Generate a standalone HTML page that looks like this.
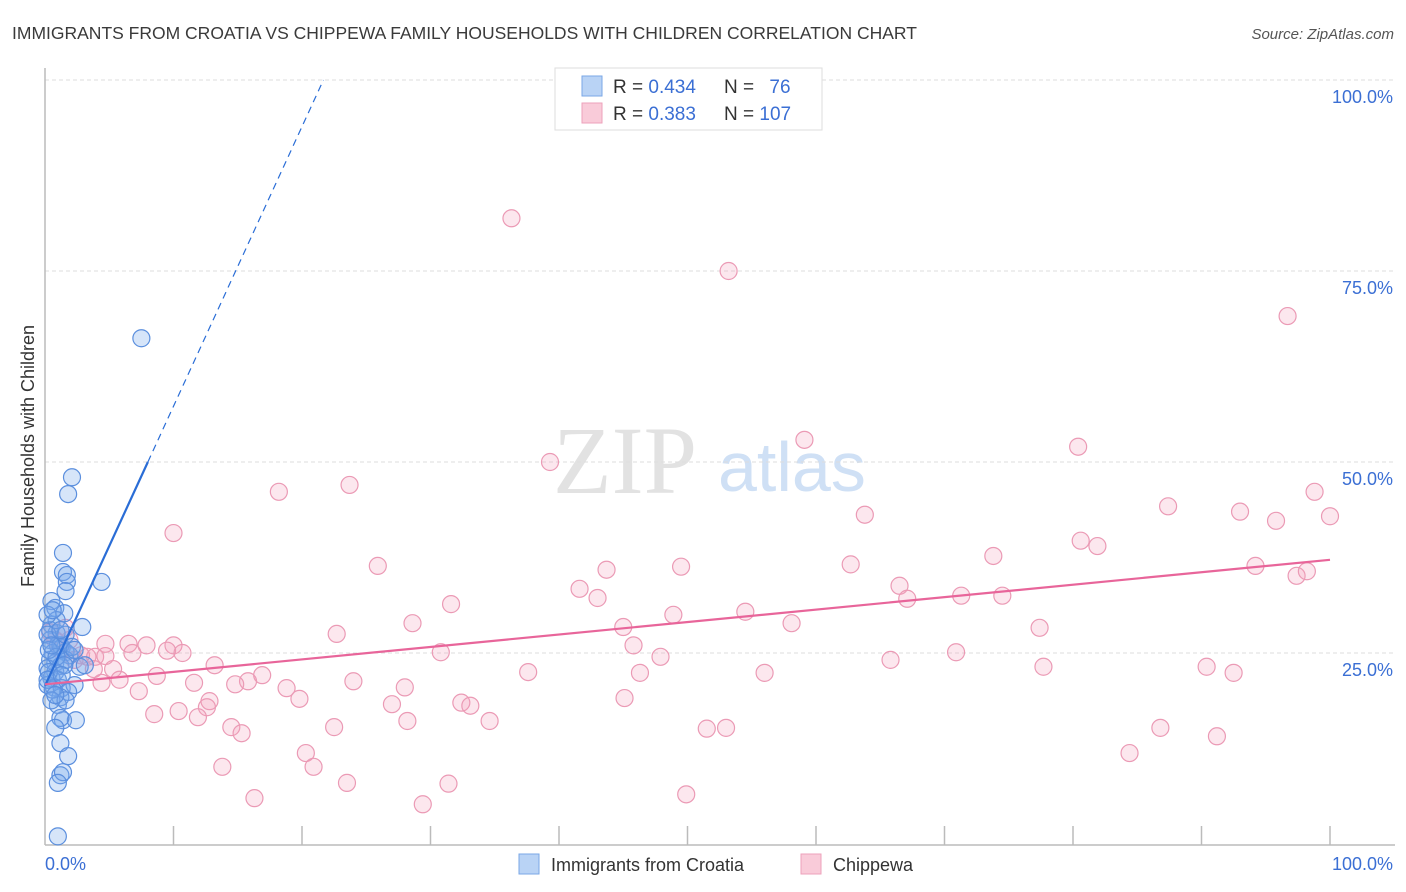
<!DOCTYPE html>
<html><head><meta charset="utf-8"><style>
body{margin:0;background:#fff;font-family:"Liberation Sans",sans-serif;}
svg{display:block}
</style></head><body>
<svg id="chart" width="1406" height="892" xmlns="http://www.w3.org/2000/svg">
<text x="12" y="39" font-size="17.5" fill="#3a3a3a">IMMIGRANTS FROM CROATIA VS CHIPPEWA FAMILY HOUSEHOLDS WITH CHILDREN CORRELATION CHART</text>
<text x="1394" y="39" font-size="15" fill="#555" font-style="italic" text-anchor="end">Source: ZipAtlas.com</text>
<g>
<text x="553" y="493" font-size="96" fill="#e2e2e2" font-family="Liberation Serif,serif">ZIP</text>
<text x="718" y="491" font-size="70" fill="#cfe0f5">atlas</text>
</g>
<g id="grid"></g>
<g id="axes"></g>
<g id="pink"></g>
<g id="blue"></g>
<g id="trends"></g>
<text transform="translate(34,456) rotate(-90)" font-size="18" fill="#333" text-anchor="middle">Family Households with Children</text>
<g>
<rect x="555" y="68" width="267" height="62" fill="#fff" stroke="#ddd"/>
<rect x="582" y="76" width="20" height="20" fill="#b9d3f5" stroke="#7aa7e6"/>
<rect x="582" y="103" width="20" height="20" fill="#f9cbd9" stroke="#eda2bb"/>
<text x="613" y="93" font-size="19" fill="#333">R = <tspan fill="#3b6fd4">0.434</tspan></text>
<text x="724" y="93" font-size="19" fill="#333">N = <tspan fill="#3b6fd4" dx="10">76</tspan></text>
<text x="613" y="120" font-size="19" fill="#333">R = <tspan fill="#3b6fd4">0.383</tspan></text>
<text x="724" y="120" font-size="19" fill="#333">N = <tspan fill="#3b6fd4">107</tspan></text>
</g>
<g>
<rect x="519" y="854" width="20" height="20" fill="#b9d3f5" stroke="#7aa7e6"/>
<text x="551" y="871" font-size="18" fill="#333">Immigrants from Croatia</text>
<rect x="801" y="854" width="20" height="20" fill="#f9cbd9" stroke="#eda2bb"/>
<text x="833" y="871" font-size="18" fill="#333">Chippewa</text>
</g>
</svg>
<script>
const yTicks=[25,50,75,100];
const yTickLabels=["25.0%","50.0%","75.0%","100.0%"];
const xTicks=[10,20,30,40,50,60,70,80,90,100];
const pinkX=[36.3,53.2,96.7,59.1,80.4,39.3,18.2,23.7,10.0,98.8,87.4,93.0,95.8,100,63.8,80.6,81.9,73.8,62.7,25.9,43.7,49.5,94.2,97.4,98.2,41.6,43.0,66.5,67.1,71.3,74.5,31.6,54.5,48.9,28.6,45.0,58.1,77.4,22.7,6.5,4.7,7.9,10.0,45.8,2.8,3.3,3.9,4.7,6.8,9.5,10.7,30.8,70.9,47.9,65.8,13.2,5.3,3.8,77.7,90.4,92.5,37.6,46.3,8.7,5.8,4.4,16.9,15.8,14.8,11.6,24.0,56.0,18.8,28.0,7.3,19.8,12.8,45.1,27.0,32.4,33.1,12.6,10.4,8.5,11.9,34.6,28.2,22.5,14.5,15.3,51.5,53.0,86.8,91.2,20.3,84.4,13.8,20.9,23.5,31.4,16.3,49.9,29.4,1.9,1.6,0.8,1.2,2.3,0.4];
const pinkY=[81.9,75.0,69.1,52.9,52.0,50.0,46.1,47.0,40.7,46.1,44.2,43.5,42.3,42.9,43.1,39.7,39.0,37.7,36.6,36.4,35.9,36.3,36.4,35.1,35.7,33.4,32.2,33.8,32.1,32.5,32.5,31.4,30.4,30.0,28.9,28.4,28.9,28.3,27.5,26.2,26.2,26.0,26.0,26.0,24.7,24.5,24.5,24.6,25.0,25.3,25.0,25.1,25.1,24.5,24.1,23.4,22.9,22.9,23.2,23.2,22.4,22.5,22.4,22.0,21.5,21.1,22.1,21.3,20.9,21.1,21.3,22.4,20.4,20.5,20.0,19.0,18.7,19.1,18.3,18.5,18.1,17.9,17.4,17.0,16.6,16.1,16.1,15.3,15.3,14.5,15.1,15.2,15.2,14.1,11.9,11.9,10.1,10.1,8.0,7.9,6.0,6.5,5.2,26.7,28.3,26.7,25.4,24.1,27.7];
const blueX=[7.5,2.1,1.8,1.4,1.4,1.7,1.7,1.6,4.4,0.5,0.8,1.5,2.9,0.5,0.9,0.4,1.0,1.3,1.6,1.9,0.6,0.4,0.8,1.2,1.6,2.7,0.2,0.8,0.5,1.0,0.2,0.7,1.3,2.3,1.8,1.2,1.0,1.4,2.4,1.2,0.8,1.2,1.8,1.2,1.4,1.0,1.0,0.4,0.2,0.9,1.2,0.3,0.9,1.5,0.3,0.6,0.2,1.6,2.1,3.1,0.5,1.2,0.2,0.5,1.6,0.6,2.3,1.3,0.8];
const blueY=[66.2,48.0,45.8,38.1,35.6,35.2,34.3,33.1,34.3,31.8,30.9,30.2,28.4,28.7,27.6,26.7,26.0,25.7,25.1,24.7,25.0,24.1,23.7,23.3,24.1,23.2,23.0,22.5,21.7,21.5,20.8,20.5,20.4,20.8,19.9,19.2,18.2,16.2,16.2,16.5,15.2,13.2,11.5,9.0,9.4,8.0,1.0,28.0,27.4,29.3,26.0,25.4,24.5,23.4,22.5,20.2,21.5,27.4,25.8,23.4,26.0,28.0,30.0,18.8,18.8,30.6,25.4,22.1,19.5];
const blueTrend=[20.7,3.66];
const pinkTrend=[20.9,0.163];
const NS="http://www.w3.org/2000/svg";
const X=v=>45+v*12.85, Y=v=>844-v*7.64;
function mk(tag,attrs,parent){const e=document.createElementNS(NS,tag);for(const k in attrs)e.setAttribute(k,attrs[k]);parent.appendChild(e);return e;}
const grid=document.getElementById('grid');
yTicks.forEach((t,i)=>{
 const l=mk('line',{x1:45,x2:1395,y1:Y(t),y2:Y(t),stroke:'#ddd','stroke-dasharray':'4 3'},grid);
 
 
 const tx=mk('text',{x:1393,y:Y(t)+23,'font-size':18,fill:'#3b6fd4','text-anchor':'end'},grid);
 tx.textContent=yTickLabels[i];
 
 
});
const axes=document.getElementById('axes');
const ya=mk('line',{x1:45,x2:45,y1:68,y2:845,stroke:'#bbb','stroke-width':1.5},axes);


const xa=mk('line',{x1:45,x2:1395,y1:845,y2:845,stroke:'#bbb','stroke-width':1.5},axes);


xTicks.forEach(t=>{
 const l=mk('line',{x1:X(t),x2:X(t),y1:826,y2:845,stroke:'#bbb','stroke-width':1.5},axes);
 
 
});
const x0=mk('text',{x:45,y:870,'font-size':18,fill:'#3b6fd4'},axes);x0.textContent='0.0%';


const x1=mk('text',{x:1393,y:870,'font-size':18,fill:'#3b6fd4','text-anchor':'end'},axes);x1.textContent='100.0%';


const pg=document.getElementById('pink');
pinkX.forEach((v,i)=>{
 const c=mk('circle',{cx:X(v),cy:Y(pinkY[i]),r:8.5,fill:'rgba(242,160,188,0.25)',stroke:'#eb9ab5','stroke-width':1.2},pg);
 
 
});
const bg=document.getElementById('blue');
blueX.forEach((v,i)=>{
 const c=mk('circle',{cx:X(v),cy:Y(blueY[i]),r:8.5,fill:'rgba(120,170,235,0.3)',stroke:'#5b8fde','stroke-width':1.2},bg);
 
 
});
const tg=document.getElementById('trends');
const bEnd=(50-blueTrend[0])/blueTrend[1], bFar=(100-blueTrend[0])/blueTrend[1];
const b1=mk('line',{x1:X(0),y1:Y(blueTrend[0]),x2:X(bEnd),y2:Y(50),stroke:'#2a6dd6','stroke-width':2.2},tg);


const b2=mk('line',{x1:X(bEnd),y1:Y(50),x2:X(bFar),y2:Y(100),stroke:'#2a6dd6','stroke-width':1.2,'stroke-dasharray':'7 5'},tg);


const p1=mk('line',{x1:X(0),y1:Y(pinkTrend[0]),x2:X(100),y2:Y(pinkTrend[0]+100*pinkTrend[1]),stroke:'#e8659a','stroke-width':2.2},tg);


</script>
</body></html>
